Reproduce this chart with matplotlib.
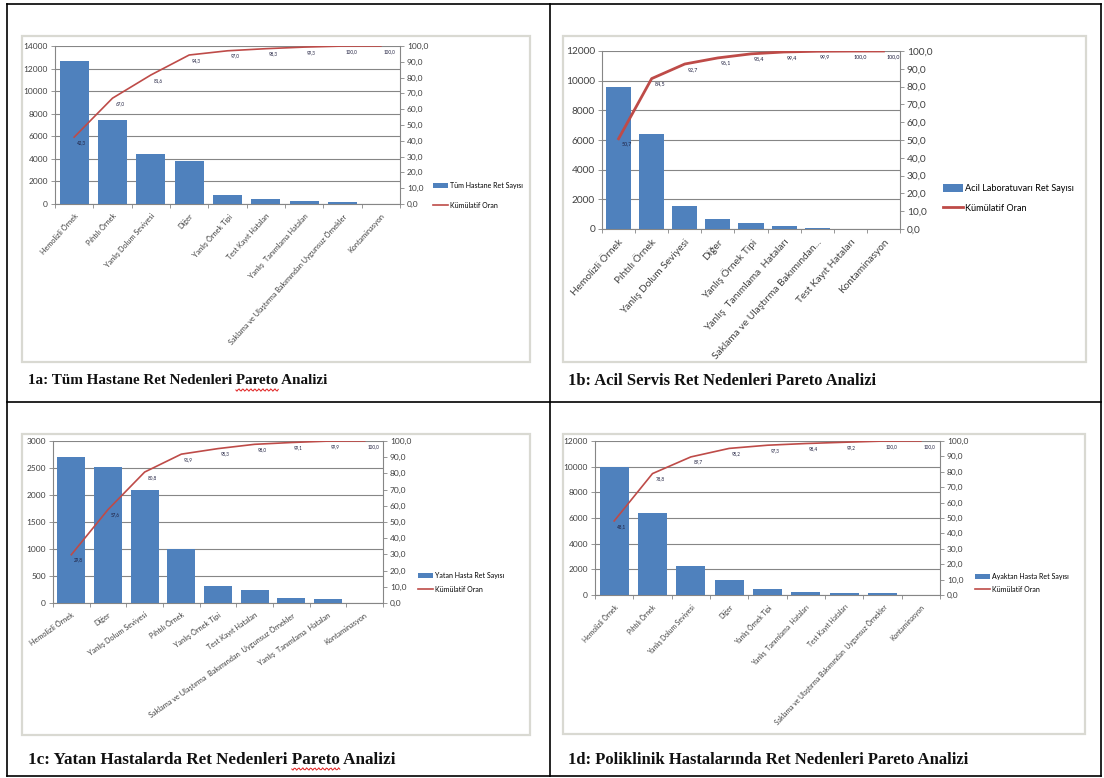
import numpy as np
import matplotlib
matplotlib.use("Agg")
import matplotlib.pyplot as plt
from matplotlib.patches import Rectangle, Patch
from matplotlib.lines import Line2D

W, H = 1104, 778

# ---- data -------------------------------------------------------------
cats_a = ["Hemolizli Örnek", "Pıhtılı Örnek", "Yanlış Dolum Seviyesi", "Diğer",
          "Yanlış Örnek Tipi", "Test Kayıt Hataları", "Yanlış  Tanımlama Hataları",
          "Saklama ve Ulaştırma Bakımından Uygunsuz Örnekler", "Kontaminasyon"]
vals_a = [12700, 7400, 4400, 3800, 800, 400, 300, 200, 10]

cats_b = ["Hemolizli Örnek", "Pıhtılı Örnek", "Yanlış Dolum Seviyesi", "Diğer",
          "Yanlış Örnek Tipi", "Yanlış  Tanımlama  Hataları",
          "Saklama ve Ulaştırma Bakımından...", "Test Kayıt Hataları", "Kontaminasyon"]
vals_b = [9600, 6400, 1550, 650, 430, 200, 80, 20, 5]

cats_c = ["Hemolizli Örnek", "Diğer", "Yanlış Dolum Seviyesi", "Pıhtılı Örnek",
          "Yanlış Örnek Tipi", "Test Kayıt Hataları",
          "Saklama ve Ulaştırma  Bakımından  Uygunsuz Örnekler",
          "Yanlış  Tanımlama  Hataları", "Kontaminasyon"]
vals_c = [2700, 2520, 2100, 1000, 310, 240, 100, 80, 5]

cats_d = ["Hemolizli Örnek", "Pıhtılı Örnek", "Yanlış Dolum Seviyesi", "Diğer",
          "Yanlış Örnek Tipi", "Yanlış  Tanımlama  Hataları", "Test Kayıt Hataları",
          "Saklama ve Ulaştırma Bakımından  Uygunsuz Örnekler", "Kontaminasyon"]
vals_d = [10000, 6400, 2250, 1150, 430, 230, 170, 160, 10]

series_a = "Tüm Hastane Ret Sayısı"
series_b = "Acil Laboratuvarı Ret Sayısı"
series_c = "Yatan Hasta Ret Sayısı"
series_d = "Ayaktan Hasta Ret Sayısı"
cum_name = "Kümülatif Oran"

captions = ["1a: Tüm Hastane Ret Nedenleri Pareto Analizi",
            "1b: Acil Servis Ret Nedenleri Pareto Analizi",
            "1c: Yatan Hastalarda Ret Nedenleri Pareto Analizi",
            "1d: Poliklinik Hastalarında Ret Nedenleri Pareto Analizi"]

BAR = "#4f81bd"
LINE = "#be4b48"
AXC = "#868686"
FONT = "Lato"

fig = plt.figure(figsize=(W / 100, H / 100), dpi=100)
fig.patch.set_facecolor("white")


def rect(x0, y0, x1, y1):
    return [x0 / W, 1 - y1 / H, (x1 - x0) / W, (y1 - y0) / H]


def fx(x):
    return x / W


def fy(y):
    return 1 - y / H


def comma(v):
    return f"{v:.1f}".replace(".", ",")


def pareto(plot_px, box_px, cats, vals, ymax, ystep, series, leg_px,
           tick_fs, lab_fs, rot, lw, val_fs, leg_fs):
    # chart frame
    bx0, by0, bx1, by1 = box_px
    fig.patches.append(Rectangle((fx(bx0), fy(by1)), fx(bx1 - bx0), (by1 - by0) / H,
                                 transform=fig.transFigure, fill=False,
                                 edgecolor="#d9d9d2", lw=1.6))
    ax = fig.add_axes(rect(*plot_px))
    x = np.arange(len(vals))
    ax.bar(x, vals, width=0.76, color=BAR, zorder=3)
    ax.set_xlim(-0.5, len(vals) - 0.5)
    ax.set_ylim(0, ymax)
    ax.set_yticks(np.arange(0, ymax + 1, ystep))
    ax.yaxis.grid(True, color=AXC, lw=0.8)
    ax.set_axisbelow(True)
    for s in ("top", "right"):
        ax.spines[s].set_visible(False)
    for s in ("left", "bottom"):
        ax.spines[s].set_color(AXC)
        ax.spines[s].set_linewidth(0.8)
    ax.tick_params(axis="y", labelsize=tick_fs, length=3, width=0.6, pad=2,
                   colors=AXC, labelcolor="#404040")
    for t in ax.get_yticklabels():
        t.set_family(FONT)
    ax.set_xticks(x)
    ax.set_xticklabels(cats, rotation=rot, ha="right", rotation_mode="anchor",
                       fontsize=lab_fs, family=FONT, color="#404040")
    ax.tick_params(axis="x", which="major", length=0, pad=6)
    ax.set_xticks(np.arange(-0.5, len(vals)), minor=True)
    ax.tick_params(axis="x", which="minor", length=3, width=0.6, color=AXC)

    total = float(np.sum(vals))
    cum = np.cumsum(vals) / total * 100
    ax2 = ax.twinx()
    ax2.plot(x, cum, color=LINE, lw=lw, zorder=4)
    ax2.set_ylim(0, 100)
    ax2.set_yticks(np.arange(0, 101, 10))
    ax2.set_yticklabels([comma(v) for v in np.arange(0, 101, 10)],
                        fontsize=tick_fs, family=FONT, color="#404040")
    ax2.tick_params(axis="y", length=3, width=0.6, color=AXC, pad=2)
    for s in ("top", "left", "bottom"):
        ax2.spines[s].set_visible(False)
    ax2.spines["right"].set_color(AXC)
    ax2.spines["right"].set_linewidth(0.8)
    for xi, ci in zip(x, cum):
        ax2.annotate(comma(ci), (xi, ci), xytext=(2, -2), textcoords="offset points",
                     fontsize=val_fs, family=FONT, ha="left", va="top",
                     color="#1f1f3f", zorder=5)

    lx, ly1, ly2 = leg_px
    handles = [Patch(facecolor=BAR, edgecolor="none"),
               Line2D([], [], color=LINE, lw=lw)]
    fig.legend(handles, [series, cum_name], loc="upper left",
               bbox_to_anchor=(fx(lx), fy(ly1 - 6)), frameon=False,
               prop={"family": FONT, "size": leg_fs},
               handlelength=2.2, handleheight=0.9, handletextpad=0.2,
               labelspacing=(ly2 - ly1) / (leg_fs * 1.389) - 1.0,
               borderaxespad=0, borderpad=0)


pareto((55, 46, 400, 204), (22, 36, 530, 362), cats_a, vals_a, 14000, 2000,
       series_a, (433, 188, 208), 6.0, 5.3, 48, 1.2, 3.3, 5.0)
pareto((602, 51, 900, 229), (563, 36, 1086, 362), cats_b, vals_b, 12000, 2000,
       series_b, (943, 190, 210), 7.3, 7.3, 48, 2.0, 3.8, 6.6)
pareto((53, 441, 383, 603), (22, 434, 530, 735), cats_c, vals_c, 3000, 500,
       series_c, (418, 578, 592), 6.0, 5.3, 35, 1.2, 3.3, 5.0)
pareto((595, 441, 940, 595), (563, 434, 1085, 734), cats_d, vals_d, 12000, 2000,
       series_d, (975, 579, 592), 6.0, 4.9, 47, 1.2, 3.3, 5.0)

# captions below each chart
cap_pos = [(28, 381), (568, 381), (28, 760), (568, 760)]
cap_sizes = [10.9, 11.9, 12.3, 12.0]
renderer = fig.canvas.get_renderer()
for i, ((cx, cy), txt, fs) in enumerate(zip(cap_pos, captions, cap_sizes)):
    cap_kw = dict(fontsize=fs, fontweight="bold", family="Liberation Serif",
                  va="center", ha="left")
    fig.text(fx(cx), fy(cy), txt, color="#111111", **cap_kw)
    if i in (0, 2):
        # spell-check squiggle under the word "Pareto"
        pre = txt.split("Pareto")[0]
        probe = fig.text(0, 0, pre, **cap_kw)
        w_pre = probe.get_window_extent(renderer).width
        probe.set_text("Pareto")
        w_word = probe.get_window_extent(renderer).width
        probe.remove()
        xs = np.linspace(cx + w_pre, cx + w_pre + w_word, 40)
        ys = cy + 9 + 1.2 * np.sin((xs - xs[0]) * 2 * np.pi / 4.0)
        fig.lines.append(Line2D(xs / W, 1 - ys / H, color="#e02020", lw=0.7,
                                transform=fig.transFigure))

# surrounding table grid
grid_kw = dict(color="black", lw=1.2, transform=fig.transFigure)
fig.lines += [
    Line2D([fx(7), fx(1101)], [fy(4), fy(4)], **grid_kw),
    Line2D([fx(7), fx(1101)], [fy(402), fy(402)], **grid_kw),
    Line2D([fx(7), fx(1101)], [fy(776), fy(776)], **grid_kw),
    Line2D([fx(7), fx(7)], [fy(4), fy(776)], **grid_kw),
    Line2D([fx(550), fx(550)], [fy(4), fy(776)], **grid_kw),
    Line2D([fx(1101), fx(1101)], [fy(4), fy(776)], **grid_kw),
]

fig.savefig("out.png", dpi=100, facecolor="white")
